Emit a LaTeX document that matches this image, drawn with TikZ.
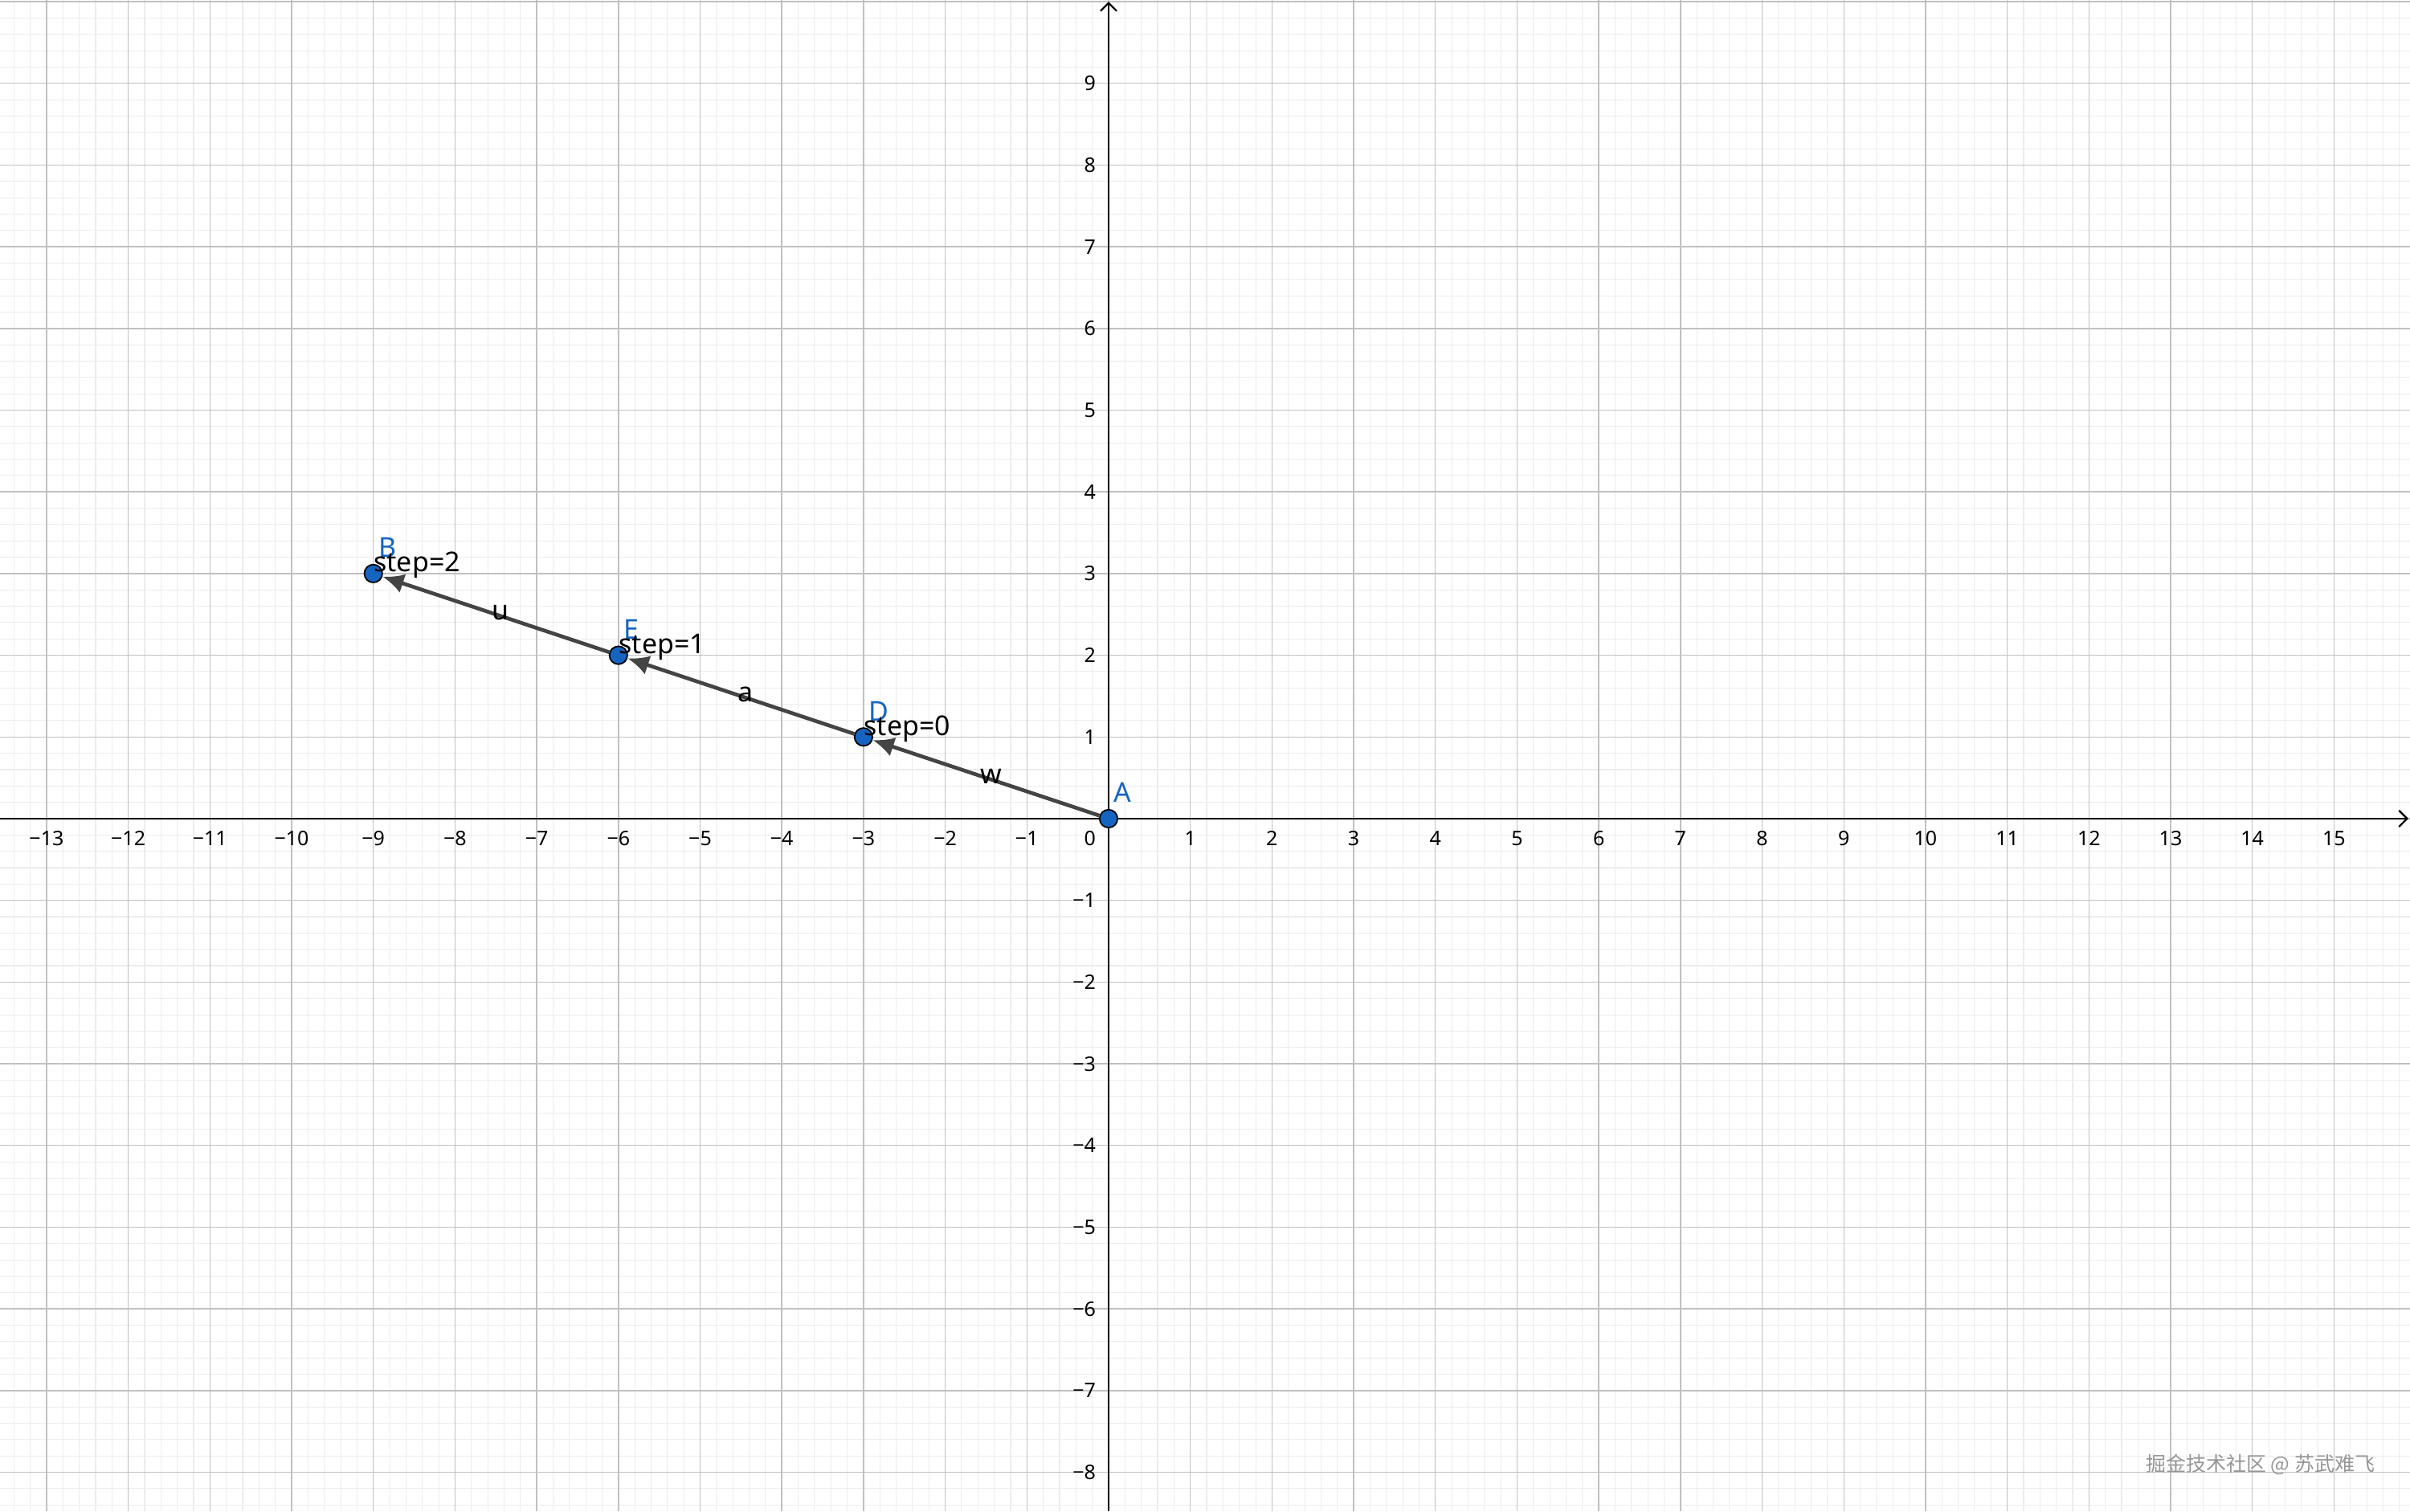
\documentclass[tikz,border=0pt]{standalone}
\usepackage{fontspec}
\setmainfont{Noto Sans}
\newfontfamily\cjk{Noto Sans CJK SC}
\usetikzlibrary{arrows.meta}
\definecolor{ggblue}{RGB}{21,101,192}
\definecolor{vecgray}{RGB}{68,68,68}
\definecolor{minorgrid}{RGB}{236,236,236}
\definecolor{majorgrid}{RGB}{192,192,192}
\definecolor{markgray}{RGB}{150,150,150}

\begin{document}
\begin{tikzpicture}[x=1cm,y=1cm,
  pt/.style={circle,fill=ggblue,draw=black,line width=0.5pt,minimum size=0.22cm,inner sep=0pt},
  ptname/.style={anchor=south west,inner sep=0pt,text=ggblue,font=\fontsize{9.5}{10}\selectfont},
  steplab/.style={anchor=base west,inner sep=0pt,font=\fontsize{9.5}{10}\selectfont},
  veclab/.style={inner sep=0pt,text=black,font=\fontsize{9.5}{10}\selectfont},
  vec/.style={draw=vecgray,line width=1.3pt,-{Latex[length=2.6mm,width=2.4mm]}},
  xlab/.style={inner sep=0pt,font=\fontsize{7}{8}\selectfont},
  ylab/.style={anchor=east,inner sep=0pt,font=\fontsize{7}{8}\selectfont}]
\fill[white] (-13.57,-8.48) rectangle (15.93,10.02);
\useasboundingbox (-13.57,-8.48) rectangle (15.93,10.02);
% grid
\draw[minorgrid,line width=0.3pt,step=0.2] (-13.57,-8.48) grid (15.93,10.02);
\draw[majorgrid,line width=0.4pt,step=1] (-13.57,-8.48) grid (15.93,10.02);
% axes
\draw[line width=0.6pt,-{Straight Barb[length=1mm,width=2mm]}] (-13.57,0) -- (15.91,0);
\draw[line width=0.6pt,-{Straight Barb[length=1mm,width=2mm]}] (0,-8.48) -- (0,10.0);
% x labels
\node[xlab] (xm13) at (-13,-0.24) {−13};
\node[xlab] (xm12) at (-12,-0.24) {−12};
\node[xlab] (xm11) at (-11,-0.24) {−11};
\node[xlab] (xm10) at (-10,-0.24) {−10};
\node[xlab] (xm9) at (-9,-0.24) {−9};
\node[xlab] (xm8) at (-8,-0.24) {−8};
\node[xlab] (xm7) at (-7,-0.24) {−7};
\node[xlab] (xm6) at (-6,-0.24) {−6};
\node[xlab] (xm5) at (-5,-0.24) {−5};
\node[xlab] (xm4) at (-4,-0.24) {−4};
\node[xlab] (xm3) at (-3,-0.24) {−3};
\node[xlab] (xm2) at (-2,-0.24) {−2};
\node[xlab] (xm1) at (-1,-0.24) {−1};
\node[ylab] (o) at (-0.15,-0.24) {0};
\node[xlab] (x1) at (1,-0.24) {1};
\node[xlab] (x2) at (2,-0.24) {2};
\node[xlab] (x3) at (3,-0.24) {3};
\node[xlab] (x4) at (4,-0.24) {4};
\node[xlab] (x5) at (5,-0.24) {5};
\node[xlab] (x6) at (6,-0.24) {6};
\node[xlab] (x7) at (7,-0.24) {7};
\node[xlab] (x8) at (8,-0.24) {8};
\node[xlab] (x9) at (9,-0.24) {9};
\node[xlab] (x10) at (10,-0.24) {10};
\node[xlab] (x11) at (11,-0.24) {11};
\node[xlab] (x12) at (12,-0.24) {12};
\node[xlab] (x13) at (13,-0.24) {13};
\node[xlab] (x14) at (14,-0.24) {14};
\node[xlab] (x15) at (15,-0.24) {15};
% y labels
\node[ylab] (y9) at (-0.15,9) {9};
\node[ylab] (y8) at (-0.15,8) {8};
\node[ylab] (y7) at (-0.15,7) {7};
\node[ylab] (y6) at (-0.15,6) {6};
\node[ylab] (y5) at (-0.15,5) {5};
\node[ylab] (y4) at (-0.15,4) {4};
\node[ylab] (y3) at (-0.15,3) {3};
\node[ylab] (y2) at (-0.15,2) {2};
\node[ylab] (y1) at (-0.15,1) {1};
\node[ylab] (ym1) at (-0.15,-1) {−1};
\node[ylab] (ym2) at (-0.15,-2) {−2};
\node[ylab] (ym3) at (-0.15,-3) {−3};
\node[ylab] (ym4) at (-0.15,-4) {−4};
\node[ylab] (ym5) at (-0.15,-5) {−5};
\node[ylab] (ym6) at (-0.15,-6) {−6};
\node[ylab] (ym7) at (-0.15,-7) {−7};
\node[ylab] (ym8) at (-0.15,-8) {−8};
% points
\node[pt] (A) at (0,0) {};
\node[pt] (D) at (-3,1) {};
\node[pt] (E) at (-6,2) {};
\node[pt] (B) at (-9,3) {};
% vectors
\draw[vec] (A) -- node[veclab,pos=0.5,xshift=0.06cm,yshift=0.02cm] (w) {w} (D);
\draw[vec] (D) -- node[veclab,pos=0.5,xshift=0.06cm,yshift=0.02cm] (a) {a} (E);
\draw[vec] (E) -- node[veclab,pos=0.5,xshift=0.06cm,yshift=0.02cm] (u) {u} (B);
% names and texts
\node[ptname] (nA) at (0.06,0.19) {A};
\node[ptname] (nD) at (-2.94,1.19) {D};
\node[ptname] (nE) at (-5.94,2.19) {E};
\node[ptname] (nB) at (-8.94,3.19) {B};
\node[steplab] (s0) at (-3.0,1.02) {step=0};
\node[steplab] (s1) at (-6.0,2.02) {step=1};
\node[steplab] (s2) at (-9.0,3.02) {step=2};
\node[anchor=west,inner sep=0pt,text=markgray,font=\cjk\fontsize{7}{8}\selectfont] (mark) at (12.69,-7.91) {掘金技术社区 @ 苏武难飞};
\end{tikzpicture}
\end{document}
